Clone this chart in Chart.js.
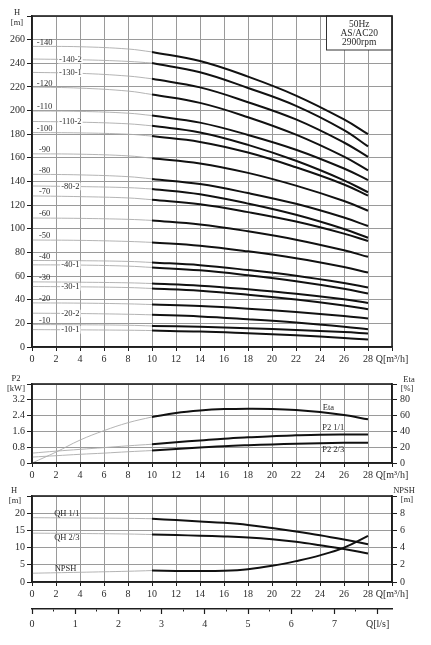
<!DOCTYPE html>
<html><head><meta charset="utf-8">
<script src="https://cdn.jsdelivr.net/npm/chart.js@4.4.1/dist/chart.umd.min.js"></script>
<style>
html,body{margin:0;padding:0;background:#fff;width:431px;height:645px;overflow:hidden}
canvas{position:absolute;left:0}
</style></head><body>
<canvas id="cH" width="431" height="372" style="top:0px"></canvas>
<canvas id="cP" width="431" height="110" style="top:372px"></canvas>
<canvas id="cN" width="431" height="118" style="top:482px"></canvas>
<canvas id="cL" width="431" height="45" style="top:600px"></canvas>
<script>
// ---------- DATA ----------
const flowUnit = 'Q[m³/h]';
const lsUnit = 'Q[l/s]';
const boxLines = ['50Hz', 'AS/AC20', '2900rpm'];

// H-Q curves, flow points in m3/h
const qCurve = [0, 4, 8, 10, 14, 18, 22, 26, 28];
const curveNames = ['-140','-140-2','-130-1','-120','-110','-110-2','-100','-90','-80','-80-2','-70',
                    '-60','-50','-40','-40-1','-30','-30-1','-20','-20-2','-10','-10-1'];
const hM140   = [254.3, 254.0, 252.1, 249.6, 241.9, 228.7, 212.7, 192.5, 180.0];
const hM140_2 = [243.6, 243.0, 241.6, 240.2, 232.4, 219.1, 204.0, 183.5, 169.7];
const hM130_1 = [232.3, 231.5, 229.2, 226.9, 219.6, 207.1, 192.5, 173.0, 160.8];
const hM120   = [219.9, 219.0, 216.5, 213.6, 206.5, 194.4, 179.6, 161.0, 149.5];
const hM110   = [199.6, 199.3, 197.8, 195.8, 189.8, 179.4, 166.9, 151.0, 141.2];
const hM110_2 = [190.8, 190.2, 188.8, 187.1, 181.5, 171.0, 157.5, 141.0, 130.9];
const hM100   = [181.4, 181.1, 180.0, 178.4, 173.5, 164.5, 152.0, 137.5, 128.0];
const hM90    = [163.4, 163.1, 161.7, 159.7, 155.3, 147.3, 136.5, 123.5, 115.3];
const hM80    = [146.1, 145.6, 144.1, 142.2, 137.8, 130.2, 121.1, 109.5, 102.3];
const hM80_2  = [136.2, 135.7, 134.8, 133.7, 129.2, 121.3, 111.8, 99.8, 92.4];
const hM70    = [127.8, 127.2, 126.1, 124.6, 120.8, 114.1, 106.1, 95.9, 89.6];
const hM60    = [109.1, 108.8, 108.0, 107.1, 103.7, 97.9, 90.8, 81.8, 76.3];
const hM50    = [90.5, 90.2, 89.3, 88.5, 85.7, 80.9, 75.0, 67.6, 63.0];
const hM40    = [73.2, 73.0, 72.4, 71.5, 69.2, 65.1, 60.3, 54.1, 50.3];
const hM40_1  = [69.5, 69.3, 68.4, 67.3, 64.9, 60.7, 55.6, 49.3, 45.3];
const hM30    = [55.1, 54.8, 54.3, 53.7, 51.9, 48.8, 45.0, 40.3, 37.3];
const hM30_1  = [51.2, 50.9, 50.3, 49.5, 47.6, 44.3, 40.2, 35.2, 32.0];
const hM20    = [37.3, 37.1, 36.5, 35.9, 34.6, 32.4, 29.6, 26.2, 24.1];
const hM20_2  = [28.6, 28.3, 27.7, 27.2, 25.9, 23.5, 20.7, 17.2, 15.0];
const hM10    = [19.0, 18.8, 18.4, 17.8, 17.1, 15.9, 14.4, 12.6, 11.4];
const hM10_1  = [14.7, 14.5, 14.2, 13.9, 13.1, 11.6, 9.9, 7.7, 6.3];
const headCurves = [hM140, hM140_2, hM130_1, hM120, hM110, hM110_2, hM100, hM90, hM80, hM80_2, hM70,
                    hM60, hM50, hM40, hM40_1, hM30, hM30_1, hM20, hM20_2, hM10, hM10_1];

// Power / efficiency
const qPerf = [0, 2, 4, 6, 8, 10, 12, 14, 16, 18, 20, 22, 24, 26, 28];
const eta         = [0, 13.8, 29, 41, 51, 58.3, 63.3, 66.4, 68.2, 68.8, 68.5, 67.2, 64.6, 60.7, 55.4];
const p2Full      = [0.50, 0.60, 0.69, 0.78, 0.87, 0.95, 1.05, 1.14, 1.23, 1.30, 1.36, 1.40, 1.43, 1.44, 1.44];
const p2TwoThirds = [0.30, 0.37, 0.44, 0.50, 0.57, 0.63, 0.71, 0.78, 0.85, 0.90, 0.94, 0.97, 1.00, 1.02, 1.03];
const perfLabels = ['Eta', 'P2 1/1', 'P2 2/3'];

// Stage head / NPSH
const qNpsh = [0, 4, 8, 10, 12, 14, 16, 18, 20, 22, 24, 26, 28];
const qhFull      = [18.7, 18.6, 18.5, 18.4, 18.0, 17.6, 17.2, 16.6, 15.7, 14.7, 13.6, 12.35, 11.0];
const qhTwoThirds = [14.2, 14.1, 13.95, 13.8, 13.65, 13.45, 13.25, 12.95, 12.45, 11.7, 10.7, 9.6, 8.3];
const npsh        = [1.02, 1.13, 1.25, 1.33, 1.29, 1.27, 1.31, 1.49, 1.88, 2.43, 3.10, 4.00, 5.37];
const npshLabels = ['QH 1/1', 'QH 2/3', 'NPSH'];

const M3H_PER_LS = 3.6;

// ---------- HELPERS ----------
const SERIF = "'Liberation Serif','Times New Roman',serif";
Chart.defaults.font.family = SERIF;
Chart.defaults.font.size = 10;
Chart.defaults.color = '#2a2a2a';
Chart.defaults.animation = false;

const GRID = '#9a9a9a', INK = '#1e1e1e', THIN = '#ababab';

function interp(xs, ys, q) {
  for (let i = 1; i < xs.length; i++) {
    if (q <= xs[i]) { const t = (q - xs[i-1]) / (xs[i] - xs[i-1]); return ys[i-1] + t * (ys[i] - ys[i-1]); }
  }
  return ys[ys.length - 1];
}
function seg(xs, ys, from, to, bold, axis) {
  const data = [];
  for (let i = 0; i < xs.length; i++) if (xs[i] >= from && xs[i] <= to) data.push({x: xs[i], y: ys[i]});
  return {data, borderColor: bold ? '#111' : THIN, borderWidth: bold ? 2 : 0.9, pointRadius: 0,
          tension: 0.4, fill: false, yAxisID: axis || 'y'};
}
function txt(ctx, s, x, y, size, align, bg) {
  ctx.save();
  ctx.font = size + 'px ' + SERIF;
  ctx.textAlign = align || 'center'; ctx.textBaseline = 'middle';
  if (bg) {
    const w = ctx.measureText(s).width;
    const x0 = ctx.textAlign === 'center' ? x - w / 2 : (ctx.textAlign === 'left' ? x : x - w);
    ctx.fillStyle = '#fff'; ctx.fillRect(x0 - 1, y - size * 0.45, w + 2, size * 0.9);
  }
  ctx.fillStyle = '#2a2a2a'; ctx.fillText(s, x, y);
  ctx.restore();
}
function frame(chart) {
  const a = chart.chartArea, ctx = chart.ctx;
  ctx.save(); ctx.strokeStyle = INK; ctx.lineWidth = 1.6;
  ctx.strokeRect(a.left, a.top, a.right - a.left, a.bottom - a.top); ctx.restore();
}
function xScale(h) {
  return {type: 'linear', min: 0, max: 30,
    ticks: {stepSize: 2, autoSkip: false, maxRotation: 0, padding: 2,
      callback: v => v === 30 ? flowUnit : String(v)},
    grid: {color: GRID, lineWidth: 1, tickLength: 4, tickColor: INK, tickWidth: 1},
    border: {display: true, color: INK, width: 1.6},
    afterFit: s => { s.height = h; }};
}
function yScale(pos, max, step, fmt, w, grid) {
  return {type: 'linear', position: pos, min: 0, max: max,
    ticks: {stepSize: step, autoSkip: false, padding: pos === 'left' ? 2 : 3,
      callback: v => (v >= max - 1e-9) ? '' : fmt(v)},
    grid: {color: GRID, lineWidth: 1, tickLength: 5, tickColor: INK, tickWidth: 1, drawOnChartArea: grid},
    border: {display: true, color: INK, width: 1.6},
    afterFit: s => { s.width = w; }};
}
const baseOpts = {responsive: false, animation: false, plugins: {legend: {display: false}, tooltip: {enabled: false}}};

// ---------- CHART 1 : H-Q ----------
const ds1 = [];
headCurves.forEach(vals => {
  ds1.push(seg(qCurve, vals, 0, 10, false));
  ds1.push(seg(qCurve, vals, 10, 28, true));
});
new Chart(document.getElementById('cH'), {
  type: 'line', data: {datasets: ds1},
  options: Object.assign({}, baseOpts, {
    layout: {padding: {top: 16, right: 39, left: 0, bottom: 0}},
    scales: {x: xScale(25), y: yScale('left', 280, 20, v => String(v), 32, true)}
  }),
  plugins: [{id: 'decoH', afterDraw(chart) {
    const ctx = chart.ctx, xs = chart.scales.x, ys = chart.scales.y, a = chart.chartArea;
    headCurves.forEach((vals, i) => {
      const name = curveNames[i];
      const trimmed = name.split('-').length > 2;
      const q = trimmed ? 3.2 : 1.05;
      const y = ys.getPixelForValue(interp(qCurve, vals, q)) + (trimmed ? 0 : -4);
      txt(ctx, name, xs.getPixelForValue(q), y, 8.5, 'center', trimmed);
    });
    // info box
    ctx.save(); ctx.fillStyle = '#fff'; ctx.strokeStyle = '#333'; ctx.lineWidth = 1;
    const bx = 326.5, by = a.top, bw = a.right - bx, bh = 50 - a.top;
    ctx.fillRect(bx, by, bw, bh); ctx.strokeRect(bx, by, bw, bh); ctx.restore();
    boxLines.forEach((s, i) => txt(ctx, s, bx + bw / 2, by + 8 + i * 9.2, 9.5, 'center'));
    frame(chart);
    txt(ctx, 'H', 17, 13, 8.5); txt(ctx, '[m]', 17, 22.5, 8.5);
  }}]
});

// ---------- CHART 2 : P2 / Eta ----------
new Chart(document.getElementById('cP'), {
  type: 'line',
  data: {datasets: [
    seg(qPerf, eta, 0, 10, false, 'y2'), seg(qPerf, eta, 10, 28, true, 'y2'),
    seg(qPerf, p2Full, 0, 10, false), seg(qPerf, p2Full, 10, 28, true),
    seg(qPerf, p2TwoThirds, 0, 10, false), seg(qPerf, p2TwoThirds, 10, 28, true)
  ]},
  options: Object.assign({}, baseOpts, {
    layout: {padding: {top: 12, right: 0, left: 0, bottom: 0}},
    scales: {
      x: xScale(19),
      y: yScale('left', 4, 0.8, v => v === 0 ? '0' : v.toFixed(1), 32, true),
      y2: yScale('right', 100, 20, v => String(v), 39, false)
    }
  }),
  plugins: [{id: 'decoP', afterDraw(chart) {
    const ctx = chart.ctx, xs = chart.scales.x, ys = chart.scales.y, y2 = chart.scales.y2;
    txt(ctx, perfLabels[0], xs.getPixelForValue(24.7), y2.getPixelForValue(interp(qPerf, eta, 24.7)) - 5, 8.5);
    txt(ctx, perfLabels[1], xs.getPixelForValue(25.1), ys.getPixelForValue(interp(qPerf, p2Full, 25.1)) - 7, 8.5);
    txt(ctx, perfLabels[2], xs.getPixelForValue(25.1), ys.getPixelForValue(interp(qPerf, p2TwoThirds, 25.1)) + 7, 8.5);
    frame(chart);
    txt(ctx, 'P2', 16, 6.5, 8.5); txt(ctx, '[kW]', 16, 16.5, 8.5);
    txt(ctx, 'Eta', 409, 8, 8.5); txt(ctx, '[%]', 407, 17, 8.5);
  }}]
});

// ---------- CHART 3 : QH / NPSH ----------
new Chart(document.getElementById('cN'), {
  type: 'line',
  data: {datasets: [
    seg(qNpsh, qhFull, 0, 10, false), seg(qNpsh, qhFull, 10, 28, true),
    seg(qNpsh, qhTwoThirds, 0, 10, false), seg(qNpsh, qhTwoThirds, 10, 28, true),
    seg(qNpsh, npsh, 0, 10, false, 'y2'), seg(qNpsh, npsh, 10, 28, true, 'y2')
  ]},
  options: Object.assign({}, baseOpts, {
    layout: {padding: {top: 14, right: 0, left: 0, bottom: 0}},
    scales: {
      x: xScale(18),
      y: yScale('left', 25, 5, v => String(v), 32, true),
      y2: yScale('right', 10, 2, v => String(v), 39, false)
    }
  }),
  plugins: [{id: 'decoN', afterDraw(chart) {
    const ctx = chart.ctx, xs = chart.scales.x, ys = chart.scales.y, y2 = chart.scales.y2;
    txt(ctx, npshLabels[0], xs.getPixelForValue(2.9), ys.getPixelForValue(interp(qNpsh, qhFull, 2.9)) - 4, 8.5);
    txt(ctx, npshLabels[1], xs.getPixelForValue(2.9), ys.getPixelForValue(interp(qNpsh, qhTwoThirds, 2.9)) + 4.5, 8.5);
    txt(ctx, npshLabels[2], xs.getPixelForValue(2.8), y2.getPixelForValue(interp(qNpsh, npsh, 2.8)) - 4, 8.5);
    frame(chart);
    txt(ctx, 'H', 14, 9, 8.5); txt(ctx, '[m]', 15, 18.5, 8.5);
    txt(ctx, 'NPSH', 404, 9, 8.5); txt(ctx, '[m]', 407, 18, 8.5);
  }}]
});

// ---------- CHART 4 : Q [l/s] axis ----------
const lsMax = 30 / M3H_PER_LS;
new Chart(document.getElementById('cL'), {
  type: 'line', data: {datasets: []},
  options: Object.assign({}, baseOpts, {
    layout: {padding: {top: 0, right: 39, left: 32, bottom: 0}},
    scales: {
      xMinor: {type: 'linear', axis: 'x', position: 'bottom', weight: 0, min: 0, max: lsMax,
        ticks: {display: false, stepSize: 0.5, includeBounds: false},
        grid: {drawOnChartArea: false, tickLength: 2.5, tickColor: INK, tickWidth: 1},
        border: {display: true, color: INK, width: 1.6},
        afterFit: s => { s.height = 0; }},
      x: {type: 'linear', axis: 'x', position: 'bottom', weight: 1, min: 0, max: lsMax,
        ticks: {stepSize: 1, includeBounds: false, padding: 4, autoSkip: false, maxRotation: 0,
          callback: v => v === 8 ? lsUnit : String(v)},
        grid: {drawOnChartArea: false, tickLength: 5, tickColor: INK, tickWidth: 1.2},
        border: {display: false},
        afterFit: s => { s.height = 36; }},
      y: {display: false}
    }
  })
});
</script>
</body></html>
